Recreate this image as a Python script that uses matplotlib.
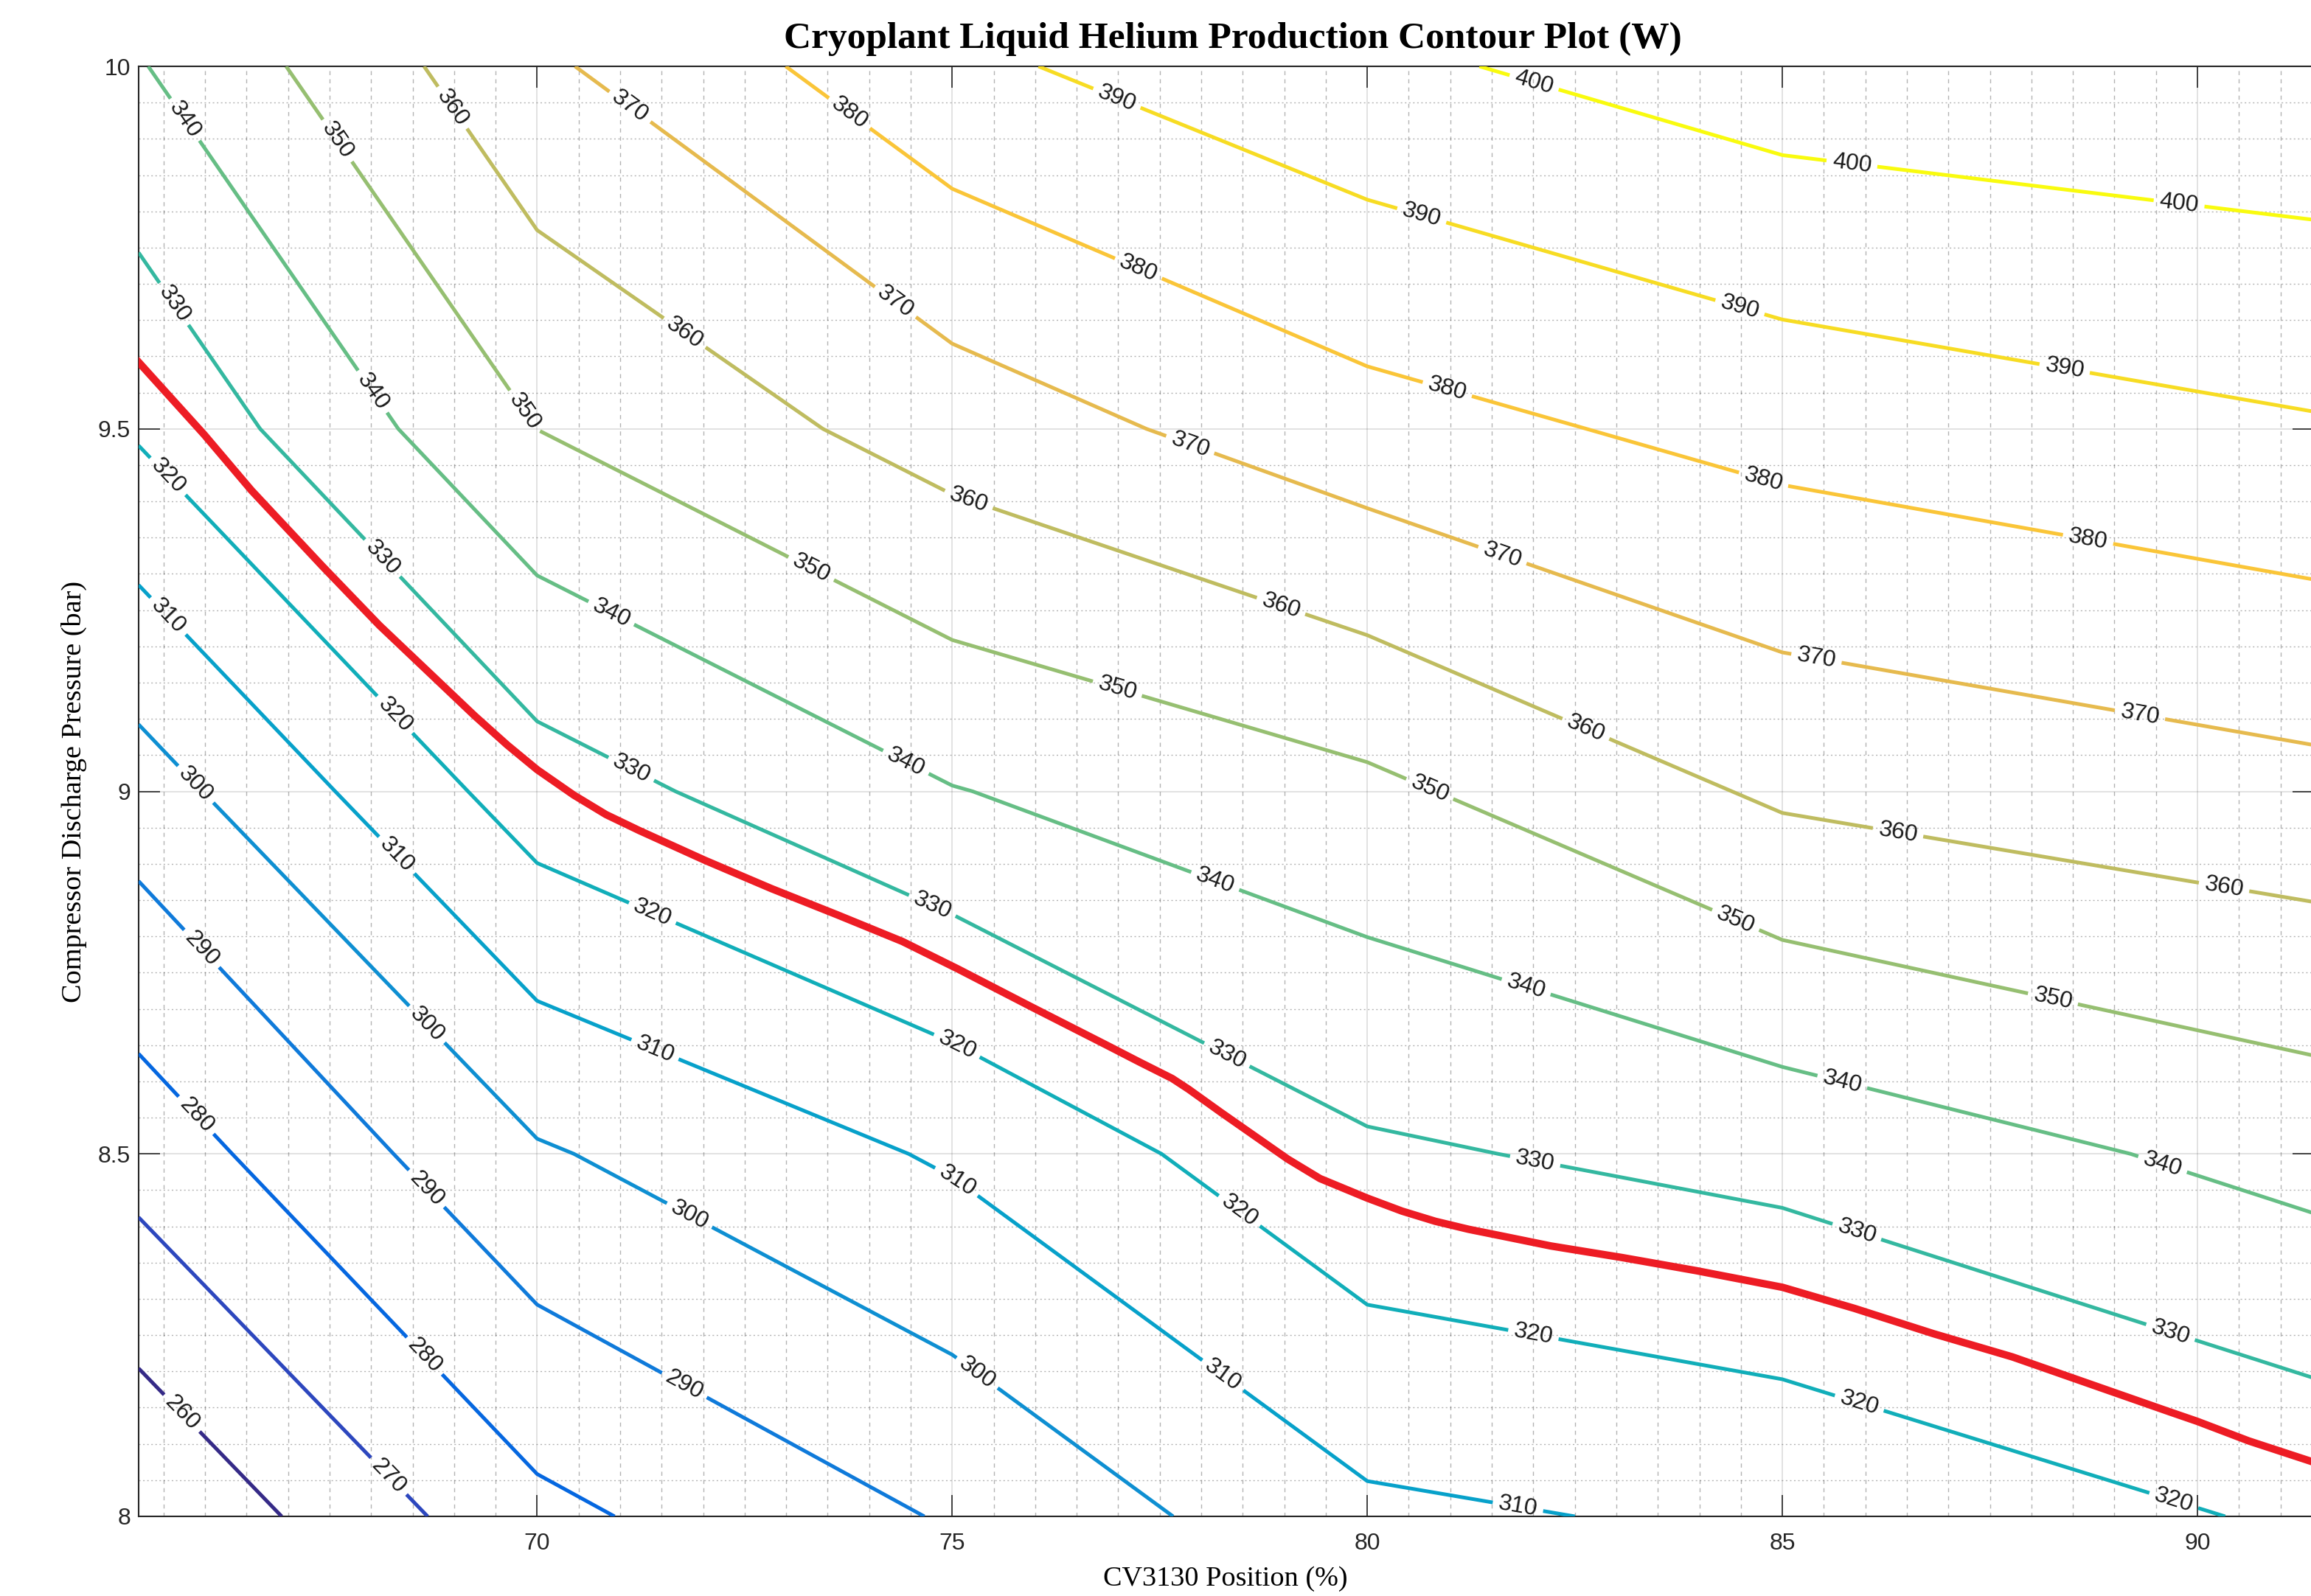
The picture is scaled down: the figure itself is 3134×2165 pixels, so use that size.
import numpy as np
import matplotlib
matplotlib.use("Agg")
from matplotlib import pyplot as plt
from matplotlib.colors import LinearSegmentedColormap
from matplotlib.ticker import MultipleLocator

plt.rcParams['font.family'] = ['Liberation Sans', 'DejaVu Sans']

# measurement grid
cv_position = [65.2, 70, 75, 80, 85, 91.4]
discharge_pressure = [8.0, 8.5, 9.0, 9.5, 10.0]

# liquid helium production (W), one list per discharge pressure
lhe_at_8_0 = [250.2, 277.5, 290.9, 308.0, 312.0, 321.6]
lhe_at_8_5 = [274.2, 298.9, 311.3, 328.55, 333.15, 343.6]
lhe_at_9_0 = [295.2, 325.2, 339.6, 347.7, 361.7, 367.2]
lhe_at_9_5 = [321.2, 350.05, 364.5, 376.25, 383.35, 389.1]
lhe_at_10_0 = [339.3, 368.2, 387.9, 398.0, 405.4, 408.0]

levels = list(range(260, 401, 10))

# red target curve
target_x = [65.2, 65.99, 66.56, 67.41, 68.1, 68.85, 69.25, 69.64, 70.0, 70.44,
            70.83, 71.23, 72.02, 72.82, 73.61, 74.4, 75.07, 75.95, 76.86, 77.25,
            77.65, 77.85, 78.24, 78.64, 79.04, 79.43, 80.0, 80.42, 80.82, 81.22,
            81.61, 82.21, 83.07, 83.96, 85.0, 85.865, 86.82, 87.77, 88.72, 89.67,
            90.0, 90.62, 91.42]
target_y = [9.592, 9.492, 9.415, 9.311, 9.229, 9.1475, 9.104, 9.064, 9.03, 8.995,
            8.968, 8.946, 8.905, 8.866, 8.83, 8.793, 8.755, 8.703, 8.65, 8.627,
            8.604, 8.589, 8.557, 8.525, 8.493, 8.466, 8.439, 8.421, 8.407, 8.396,
            8.387, 8.373, 8.357, 8.339, 8.316, 8.287, 8.252, 8.22, 8.182, 8.144,
            8.131, 8.104, 8.074]

# where the contour labels sit
label_x = [65.79, 67.60, 68.98, 71.11, 73.76, 76.98, 82.0, 85.84, 89.78,
           80.67, 84.52, 88.4, 77.22, 80.95, 84.77, 88.68,
           74.29, 77.86, 81.61, 85.41, 89.30,
           71.75, 75.18, 78.95, 82.62, 86.39, 90.31,
           69.82, 73.30, 76.99, 80.74, 84.42, 88.25,
           68.0, 70.88, 74.45, 78.17, 81.91, 85.71, 89.57,
           65.61, 68.13, 71.13, 74.77, 78.31, 82.02, 85.89, 89.67,
           65.54, 68.27, 71.38, 75.06, 78.45, 82.0, 85.91, 89.71,
           65.54, 68.29, 71.42, 75.06, 78.25, 81.81,
           65.89, 68.63, 71.81, 75.25,
           65.93, 68.64, 71.75,
           65.89, 68.63, 68.18, 65.70]
label_y = [9.929, 9.898, 9.943, 9.943, 9.935, 9.955, 9.974, 9.868, 9.812,
           9.80, 9.68, 9.583, 9.715, 9.549, 9.429, 9.346,
           9.671, 9.476, 9.32, 9.183, 9.101,
           9.628, 9.396, 9.252, 9.083, 8.941, 8.861,
           9.522, 9.307, 9.142, 9.0, 8.818, 8.709,
           9.55, 9.243, 9.042, 8.877, 8.729, 8.594, 8.482,
           9.671, 9.321, 9.03, 8.845, 8.637, 8.489, 8.39, 8.252,
           9.433, 9.104, 8.83, 8.65, 8.42, 8.25, 8.15, 8.02,
           9.24, 8.91, 8.644, 8.463, 8.193, 8.01,
           9.01, 8.674, 8.41, 8.19,
           8.78, 8.449, 8.176,
           8.553, 8.22, 8.052, 8.14]

# parula-like colour map
parula_rgb = [(0.2081, 0.1663, 0.5292), (0.1959, 0.2645, 0.7279), (0.0117, 0.3875, 0.8820),
              (0.0498, 0.4586, 0.8641), (0.0793, 0.5200, 0.8312), (0.0343, 0.5966, 0.8199),
              (0.0228, 0.6535, 0.7768), (0.0843, 0.6928, 0.7062), (0.2178, 0.7250, 0.6193),
              (0.3953, 0.7459, 0.5244), (0.5709, 0.7485, 0.4494), (0.7184, 0.7411, 0.3905),
              (0.8507, 0.7299, 0.3360), (0.9739, 0.7314, 0.2666), (0.9880, 0.8066, 0.1794),
              (0.9589, 0.8949, 0.1132), (0.9763, 0.9831, 0.0538)]
parula_pos = [0, 4, 8, 12, 16, 20, 24, 28, 32, 36, 40, 44, 48, 52, 56, 60, 63]
parula = LinearSegmentedColormap.from_list(
    'parula', [(p / 63, c) for p, c in zip(parula_pos, parula_rgb)])

lhe = np.array([lhe_at_8_0, lhe_at_8_5, lhe_at_9_0, lhe_at_9_5, lhe_at_10_0])

W, H = 3134, 2165
fig = plt.figure(figsize=(W / 100, H / 100), dpi=100)
ax = fig.add_axes([188 / W, 108 / H, 2949.6 / W, 1967 / H])

cs = ax.contour(cv_position, discharge_pressure, lhe, levels=levels,
                cmap=parula, vmin=260, vmax=400, linewidths=3.6, zorder=3)
ax.clabel(cs, levels, inline=True, inline_spacing=8, fmt='%d', fontsize=23,
          colors='#1a1a1a', manual=list(zip(label_x, label_y)))

ax.plot(target_x, target_y, color='#ed1c24', linewidth=7.3,
        solid_joinstyle='round', zorder=4)

ax.set_xlim(65.2, 91.4)
ax.set_ylim(8, 10)
ax.set_xticks([70, 75, 80, 85, 90])
ax.set_yticks([8, 8.5, 9, 9.5, 10])
ax.set_yticklabels(['8', '8.5', '9', '9.5', '10'])
ax.xaxis.set_minor_locator(MultipleLocator(0.5))
ax.yaxis.set_minor_locator(MultipleLocator(0.05))

ax.set_axisbelow(True)
ax.grid(True, which='major', color='#262626', alpha=0.15, linewidth=1.3)
ax.xaxis.grid(True, which='minor', color='#262626', alpha=0.35, linewidth=1.0,
              linestyle=(0, (4, 4)))
ax.yaxis.grid(True, which='minor', color='#262626', alpha=0.35, linewidth=1.0,
              linestyle=(0, (1.5, 2.5)))

ax.tick_params(which='major', direction='in', length=21, width=1.2, top=True,
               right=True, colors='#262626', labelsize=23)
ax.tick_params(axis='y', pad=8)
ax.tick_params(axis='x', pad=16)
ax.tick_params(which='minor', length=0)
for s in ax.spines.values():
    s.set_color('#262626')
    s.set_linewidth(1.5)

ax.set_title('Cryoplant Liquid Helium Production Contour Plot (W)',
             family='Liberation Serif', fontweight='bold', fontsize=37,
             x=0.503, y=1.0145, va='center')
ax.set_xlabel('CV3130 Position (%)', family='Liberation Serif', fontsize=27.5)
ax.xaxis.set_label_coords(0.4997, -0.0432)
ax.xaxis.label.set_va('center')
ax.set_ylabel('Compressor Discharge Pressure (bar)', family='Liberation Serif',
              fontsize=27.5)
ax.yaxis.set_label_coords(-0.0298, 0.4997)
ax.yaxis.label.set_va('center')

fig.savefig('out.png', dpi=100)
